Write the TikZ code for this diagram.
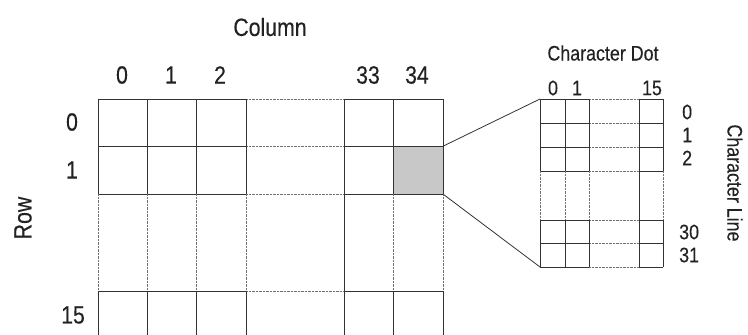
\documentclass[tikz,border=0pt]{standalone}
\usepackage{fontspec}
\setmainfont{Liberation Sans}[FakeStretch=0.85,FakeBold=0.3]
\definecolor{ink}{HTML}{222222}
\definecolor{ln}{HTML}{333333}
\definecolor{shade}{HTML}{C8C8C8}
\begin{document}
\begin{tikzpicture}[x=1pt,y=-1pt,
  sl/.style={draw=ln,line width=0.8pt},
  dl/.style={draw=ln!70,line width=0.8pt,dash pattern=on 0.8pt off 0.6pt},
  big/.style={text=ink,inner sep=0pt,font=\fontsize{25}{29}\selectfont},
  mid/.style={text=ink,inner sep=0pt,font=\fontsize{21}{25}\selectfont},
  sml/.style={text=ink,inner sep=0pt,font=\fontsize{21}{25}\selectfont}]
\useasboundingbox (0,0) rectangle (748,335);
\clip (0,0) rectangle (748,335);
% shaded cell
\node[fill=shade,draw=none,minimum width=50pt,minimum height=48pt,inner sep=0pt,anchor=north west] (cell) at (393,146) {};
% left grid horizontals
\foreach \y in {99,146,194,291}{
  \draw[sl] (98,\y) -- (246,\y);
  \draw[dl] (246,\y) -- (344,\y);
  \draw[sl] (344,\y) -- (443,\y);
}
% left grid verticals
\foreach \x in {98,147,196,246,393,443}{
  \draw[sl] (\x,99) -- (\x,194);
  \draw[dl] (\x,194) -- (\x,291);
  \draw[sl] (\x,291) -- (\x,340);
}
\draw[sl] (344,99) -- (344,340);
% right grid
\coordinate (dnw) at (540,99);
\coordinate (dsw) at (540,267);
\foreach \y in {99,123,147,171,220,243,267}{
  \draw[sl] (540,\y) -- (589,\y);
  \draw[dl] (589,\y) -- (639,\y);
  \draw[sl] (639,\y) -- (663,\y);
}
\foreach \x in {540,565,589,663}{
  \draw[sl] (\x,99) -- (\x,171);
  \draw[dl] (\x,171) -- (\x,220);
  \draw[sl] (\x,220) -- (\x,267);
}
\draw[sl] (639,99) -- (639,267);
% connectors
\draw[sl] (cell.north east) -- (dnw);
\draw[sl] (cell.south east) -- (dsw);
% labels left
\node[big] (col) at (270,27) {Column};
\node[big] (c0) at (122,75) {0};
\node[big] (c1) at (171,75) {1};
\node[big] (c2) at (220,75) {2};
\node[big] (c33) at (368,75) {33};
\node[big] (c34) at (417,75) {34};
\node[big] (r0) at (72,122) {0};
\node[big] (r1) at (72,170) {1};
\node[big] (r15) at (73,315) {15};
\node[big,rotate=90] (row) at (23,218) {Row};
% labels right
\node[mid] (cdot) at (603,53) {Character Dot};
\node[sml] (d0) at (553,88) {0};
\node[sml] (d1) at (577,88) {1};
\node[sml] (d15) at (652,88) {15};
\node[sml,anchor=west] (l0) at (682,112) {0};
\node[sml,anchor=west] (l1) at (682,135) {1};
\node[sml,anchor=west] (l2) at (682,158) {2};
\node[sml,anchor=west] (l30) at (679,232) {30};
\node[sml,anchor=west] (l31) at (679,255) {31};
\node[mid,rotate=-90] (cline) at (735,183) {Character Line};
\end{tikzpicture}
\end{document}
